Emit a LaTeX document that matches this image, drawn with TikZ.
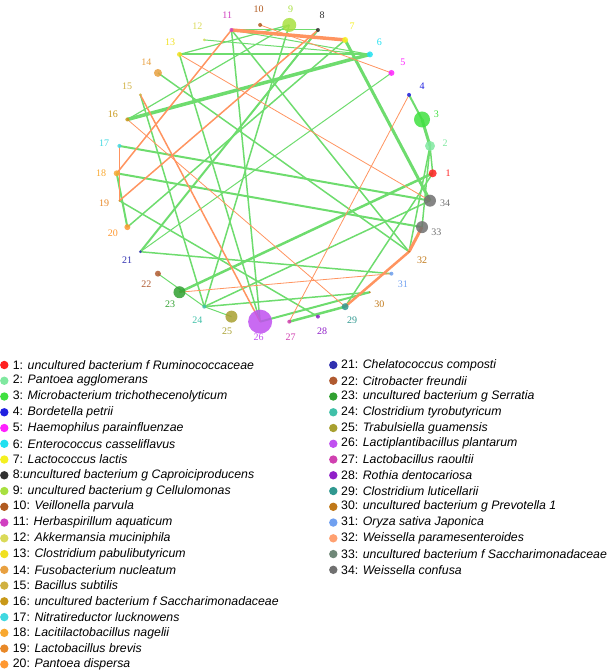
\documentclass[tikz,border=0pt]{standalone}
\usepackage{fontspec}
\setmainfont{Liberation Sans}
\newfontfamily\netfont{Liberation Serif}
\pgfdeclarelayer{edges}
\pgfsetlayers{edges,main}
\definecolor{c1}{HTML}{FF2020}
\definecolor{c2}{HTML}{80E8A0}
\definecolor{c3}{HTML}{40E040}
\definecolor{c4}{HTML}{2020E0}
\definecolor{c5}{HTML}{FF20FF}
\definecolor{c6}{HTML}{20E0F0}
\definecolor{c7}{HTML}{F4F020}
\definecolor{c8}{HTML}{303030}
\definecolor{c9}{HTML}{A8E040}
\definecolor{c10}{HTML}{B05A20}
\definecolor{c11}{HTML}{D040C0}
\definecolor{c12}{HTML}{DADA58}
\definecolor{c13}{HTML}{F0E020}
\definecolor{c14}{HTML}{E8A040}
\definecolor{c15}{HTML}{D0B040}
\definecolor{c16}{HTML}{C89818}
\definecolor{c17}{HTML}{40D8E0}
\definecolor{c18}{HTML}{F8A830}
\definecolor{c19}{HTML}{E88828}
\definecolor{c20}{HTML}{FF9830}
\definecolor{c21}{HTML}{3030B0}
\definecolor{c22}{HTML}{B05A30}
\definecolor{c23}{HTML}{30A030}
\definecolor{c24}{HTML}{40C0A8}
\definecolor{c25}{HTML}{A8A030}
\definecolor{c26}{HTML}{C050F0}
\definecolor{c27}{HTML}{D040B0}
\definecolor{c28}{HTML}{9020C8}
\definecolor{c29}{HTML}{309890}
\definecolor{c30}{HTML}{C07818}
\definecolor{c31}{HTML}{70A0F0}
\definecolor{c32}{HTML}{FFA070}
\definecolor{c33}{HTML}{708878}
\definecolor{c34}{HTML}{707070}
\definecolor{eg}{HTML}{6EDC6E}
\definecolor{eo}{HTML}{FF9460}
\begin{document}
\begin{tikzpicture}[x=1pt,y=-1pt,
  ge/.style={draw=eg,line width=#1},
  oe/.style={draw=eo,line width=#1},
  netlab/.style={font=\netfont\fontsize{10}{10}\selectfont,inner sep=0pt},
  legdot/.style={circle,inner sep=0pt,minimum size=8.4pt},
  legtxt/.style={anchor=west,inner sep=0pt,font=\fontsize{12.3}{14}\selectfont}]
\useasboundingbox (0,0) rectangle (608,672);
% network nodes
\foreach \k/\r/\c in {1/4/c1,2/5/c2,3/8/c3,4/2/c4,5/3/c5,6/3/c6,7/3/c7,8/2/c8,9/7/c9,10/2/c10,
  11/2/c11,12/1.5/c12,13/2.5/c13,14/4/c14,15/1.5/c15,16/2/c16,17/2/c17,18/3/c18,19/1/c19,20/3/c20,
  21/1.5/c21,22/3/c22,23/6/c23,24/2/c24,25/6/c25,26/12/c26,27/2/c27,28/2/c28,29/3.5/c29,30/1/c30,
  31/2/c31,32/1/c30,33/6/c34,34/6/c34}{
  \pgfmathsetmacro\ang{(\k-1)*360/34}
  \pgfmathsetmacro\dd{2*\r}
  \node[circle,inner sep=0pt,minimum size=\dd pt,fill=\c,fill opacity=0.85] (n\k) at ({274.7+158*cos(\ang)},{173.3-149*sin(\ang)}) {};
  \node[netlab,text=\c] (l\k) at ({274.7+173.5*cos(\ang)},{173.3-164.5*sin(\ang)}) {\k};
}
\begin{pgfonlayer}{edges}
\foreach \a/\b/\w in {16/6/3.5,7/34/3,3/2/3,4/3/2,2/1/1.5,13/6/2,12/6/1,11/6/1,16/9/1.2,
  11/26/1.5,13/26/1.5,15/24/1.5,17/34/2,18/33/2,18/20/2,20/7/1.5,8/21/2,5/21/1,21/31/1.5,
  22/24/1,24/25/1,1/23/2.5,24/34/1.5,24/30/1.5,26/30/2,27/29/2.5,29/1/1.5,14/32/1.5,2/32/1.5,
  2/33/1.5,11/32/1.5,9/13/1.2,9/24/1.5,19/28/1.5,8/11/1}
  \draw[ge=\w] (n\a.center) -- (n\b.center);
\foreach \a/\b/\w in {11/7/3.5,10/5/0.8,11/18/1.5,8/19/1.5,13/34/0.8,4/27/0.8,17/19/1.5,
  15/26/1.5,16/29/0.8,23/31/0.8,29/32/2.5,32/33/3}
  \draw[oe=\w] (n\a.center) -- (n\b.center);
\end{pgfonlayer}
% legend
\foreach \k/\c/\t in {1/c1/{1: \textit{uncultured bacterium f Ruminococcaceae}},
  2/c2/{2: \textit{Pantoea agglomerans}},
  3/c3/{3: \textit{Microbacterium trichothecenolyticum}},
  4/c4/{4: \textit{Bordetella petrii}},
  5/c5/{5: \textit{Haemophilus parainfluenzae}},
  6/c6/{6: \textit{Enterococcus casseliflavus}},
  7/c7/{7: \textit{Lactococcus lactis}},
  8/c8/{8:\textit{uncultured bacterium g Caproiciproducens}},
  9/c9/{9: \textit{uncultured bacterium g Cellulomonas}},
  10/c10/{10: \textit{Veillonella parvula}},
  11/c11/{11: \textit{Herbaspirillum aquaticum}},
  12/c12/{12: \textit{Akkermansia muciniphila}},
  13/c13/{13: \textit{Clostridium pabulibutyricum}},
  14/c14/{14: \textit{Fusobacterium nucleatum}},
  15/c15/{15: \textit{Bacillus subtilis}},
  16/c16/{16: \textit{uncultured bacterium f Saccharimonadaceae}},
  17/c17/{17: \textit{Nitratireductor lucknowens}},
  18/c18/{18: \textit{Lacitilactobacillus nagelii}},
  19/c19/{19: \textit{Lactobacillus brevis}},
  20/c20/{20: \textit{Pantoea dispersa}}}{
  \pgfmathsetmacro\yy{365+(\k-1)*15.755}
  \node[legdot,fill=\c] (d\k) at (4.3,\yy) {};
  \node[legtxt] (t\k) at (12.7,\yy) {\t};
}
\foreach \k/\c/\t in {21/c21/{21: \textit{Chelatococcus composti}},
  22/c22/{22: \textit{Citrobacter freundii}},
  23/c23/{23: \textit{uncultured bacterium g Serratia}},
  24/c24/{24: \textit{Clostridium tyrobutyricum}},
  25/c25/{25: \textit{Trabulsiella guamensis}},
  26/c26/{26: \textit{Lactiplantibacillus plantarum}},
  27/c27/{27: \textit{Lactobacillus raoultii}},
  28/c28/{28: \textit{Rothia dentocariosa}},
  29/c29/{29: \textit{Clostridium luticellarii}},
  30/c30/{30: \textit{uncultured bacterium g Prevotella 1}},
  31/c31/{31: \textit{Oryza sativa Japonica}},
  32/c32/{32: \textit{Weissella paramesenteroides}},
  33/c33/{33: \textit{uncultured bacterium f Saccharimonadaceae}},
  34/c34/{34: \textit{Weissella confusa}}}{
  \pgfmathsetmacro\yy{365+(\k-21)*15.755}
  \node[legdot,fill=\c] (d\k) at (333.3,\yy) {};
  \node[legtxt] (t\k) at (341,\yy) {\t};
}
\end{tikzpicture}
\end{document}
